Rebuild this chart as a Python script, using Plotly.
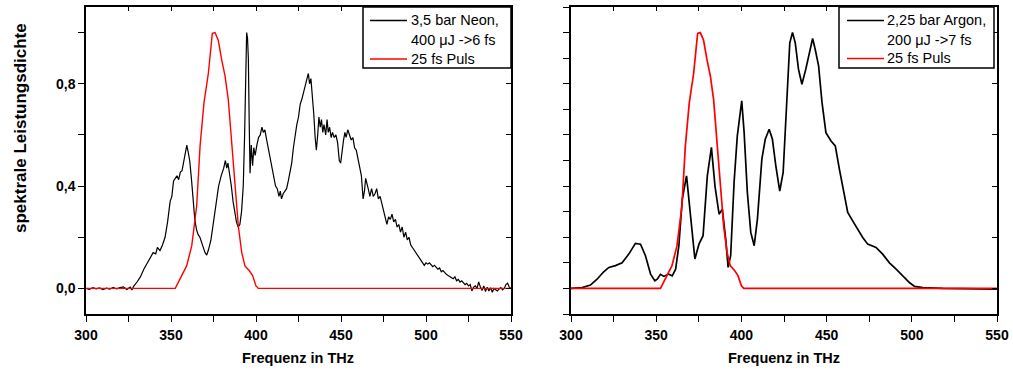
import plotly.graph_objects as go

# ---------------- data ----------------
neon_f = [300, 302, 304, 306, 308, 310, 312, 314, 316, 318, 320, 322, 324, 326, 327, 328,
          330, 332, 334, 336, 338, 339.5, 341, 342, 343.5, 345, 346.5, 348, 349.5, 350.5,
          351.5, 352.5, 353.5, 354.5, 355.5, 356.5, 357.5, 358.5, 359.3, 360.2, 361, 362,
          363, 364, 365, 366, 367, 368.5, 370, 371, 372, 373.5, 375, 376.5, 378, 379.5,
          381, 382, 382.8, 383.5, 384.5, 385.5, 386.5, 387.5, 388.5, 389.5, 390.5, 391.5,
          392.5, 393.3, 394, 394.5, 395, 395.5, 396, 396.5, 397.2, 398, 398.7, 399.5,
          400.5, 401.5, 402.5, 403.5, 404.3, 405.2, 406.3, 407.5, 408.5, 409.5, 410.5,
          411.5, 412.5, 413.5, 414.3, 415, 416, 417, 418, 419, 420, 421, 422, 423, 424,
          425, 426, 427, 428, 429, 430, 430.8, 431.5, 432.3, 433, 434, 434.8, 435.5,
          436.3, 437, 437.8, 438.5, 439.3, 440, 441, 441.8, 442.5, 443.3, 444.2, 445,
          446, 447, 448, 449, 449.8, 450.5, 451.5, 452.3, 453, 454, 455, 456, 457, 458,
          459, 460, 461, 462, 463, 463.8, 464.5, 465.3, 466, 467, 468, 469, 470, 471,
          472, 473, 474, 475, 476, 477, 478, 479, 480, 481, 482, 483, 484, 485, 486,
          487, 488, 489, 490, 491, 492, 493, 494, 495, 496, 497, 498, 499, 500, 501,
          502, 503, 504, 505, 506, 507, 508, 509, 510, 511, 512, 513, 514, 515, 516,
          517, 518, 519, 520, 521, 522, 523, 524, 525, 526, 527, 528, 529, 530, 531,
          532, 533, 534, 535, 536, 537, 538, 539, 540, 541, 542, 543, 544, 545, 546,
          547, 548, 549, 550]
neon_v = [0.000, -0.004, 0.003, -0.002, 0.002, -0.005, 0.001, -0.003, 0.004, -0.002, 0.003,
          0.006, -0.004, 0.005, -0.006, 0.008,
          0.025, 0.045, 0.075, 0.10, 0.125, 0.14, 0.135, 0.16, 0.148, 0.17, 0.20, 0.26,
          0.34, 0.36, 0.42, 0.43, 0.44, 0.425, 0.455, 0.46, 0.50, 0.54, 0.56, 0.53, 0.50,
          0.43, 0.35, 0.27, 0.23, 0.21, 0.20, 0.17, 0.14, 0.13, 0.15, 0.19, 0.26, 0.34,
          0.40, 0.44, 0.47, 0.50, 0.47, 0.49, 0.45, 0.40, 0.34, 0.29, 0.26, 0.24, 0.25,
          0.30, 0.40, 0.60, 0.85, 1.00, 0.98, 0.90, 0.65, 0.45, 0.56, 0.48, 0.55, 0.52,
          0.56, 0.59, 0.60, 0.63, 0.61, 0.62, 0.58, 0.54, 0.50, 0.47, 0.43, 0.40, 0.39,
          0.36, 0.38, 0.35, 0.37, 0.38, 0.39, 0.42, 0.46, 0.49, 0.55, 0.60, 0.64, 0.67,
          0.72, 0.74, 0.77, 0.80, 0.82, 0.84, 0.80, 0.82, 0.77, 0.68, 0.59, 0.54, 0.60,
          0.67, 0.63, 0.66, 0.61, 0.64, 0.60, 0.66, 0.61, 0.63, 0.59, 0.61, 0.59, 0.60,
          0.57, 0.50, 0.49, 0.54, 0.58, 0.61, 0.59, 0.62, 0.60, 0.58, 0.59, 0.55, 0.54,
          0.51, 0.48, 0.44, 0.35, 0.38, 0.43, 0.40, 0.39, 0.36, 0.39, 0.36, 0.37, 0.39,
          0.35, 0.36, 0.33, 0.31, 0.28, 0.25, 0.28, 0.27, 0.29, 0.26, 0.27, 0.24, 0.25,
          0.22, 0.24, 0.20, 0.22, 0.19, 0.20, 0.17, 0.16, 0.15, 0.14, 0.13, 0.12, 0.11,
          0.10, 0.09, 0.10, 0.095, 0.10, 0.09, 0.085, 0.09, 0.08, 0.075, 0.08, 0.065,
          0.07, 0.06, 0.055, 0.05, 0.045, 0.04, 0.038, 0.045, 0.03, 0.035, 0.025, 0.03,
          0.02, 0.015, 0.02, 0.01, 0.015, -0.01, 0.005, 0.01, 0.0, 0.025, 0.005, -0.008,
          0.01, -0.012, 0.005, -0.01, 0.003, -0.015, 0.0, -0.005, -0.01, -0.002, 0.003,
          -0.006, 0.0, 0.015, 0.02, 0.005, 0.0]

argon_f = [300, 306.5, 311.4, 315.3, 319.2, 322.2, 326.1, 330, 333.9, 337.8, 340.8, 343.7,
           346.7, 349.2, 350.6, 352.5, 354.5, 357.1, 359.4, 361.4, 363.3, 365.3, 367.8,
           370.2, 372.7, 375.1, 377.5, 380, 382.4, 384.5, 386.9, 388.8, 390.8, 392.2,
           393.7, 395.7, 397.6, 400.2, 401.6, 403.5, 405.5, 407.5, 409.4, 412, 414, 416.3,
           418.2, 420.2, 422.5, 424.5, 426.5, 428.4, 430, 431.6, 433.5, 435.5, 437.8,
           439.8, 441.8, 443.3, 445.3, 447.3, 449.6, 452.5, 455.1, 457.5, 459.8, 462.4,
           465.3, 468.2, 471.2, 474.1, 479, 482.9, 486.9, 490.8, 494.7, 498.6, 501.6,
           506.5, 518.2, 537.8, 550]
argon_v = [0.0, 0.003, 0.013, 0.036, 0.065, 0.082, 0.089, 0.10, 0.134, 0.176, 0.173, 0.128,
           0.056, 0.030, 0.036, 0.055, 0.047, 0.056, 0.049, 0.075, 0.167, 0.349, 0.44,
           0.27, 0.115, 0.173, 0.206, 0.44, 0.551, 0.40, 0.29, 0.31, 0.193, 0.082,
           0.128, 0.414, 0.596, 0.733, 0.609, 0.375, 0.219, 0.167, 0.271, 0.505, 0.583,
           0.622, 0.583, 0.479, 0.38, 0.453, 0.74, 0.96, 1.0, 0.96, 0.857, 0.798, 0.857,
           0.922, 0.977, 0.935, 0.87, 0.727, 0.609, 0.577, 0.557, 0.466, 0.388, 0.297,
           0.264, 0.232, 0.199, 0.173, 0.16, 0.134, 0.10, 0.075, 0.049, 0.023, 0.008,
           0.003, 0.0, -0.003, -0.003]

pulse_f = [300, 352.5, 356.3, 359.2, 362.2, 365.1, 367.1, 369.4, 372, 374.3, 375.9, 377.8,
           379.8, 381.8, 383.7, 385.7, 387.6, 389.6, 391.6, 393.5, 396.1, 398, 400, 401.4, 550]
pulse_v = [0.0, 0.0, 0.05, 0.088, 0.166, 0.322, 0.556, 0.725, 0.842, 0.997, 1.0, 0.97,
           0.894, 0.83, 0.738, 0.58, 0.40, 0.244, 0.14, 0.088, 0.069, 0.05, 0.01, 0.0, 0.0]

neon_label = ["3,5 bar Neon,", "400 \u03bcJ ->6 fs"]
argon_label = ["2,25 bar Argon,", "200 \u03bcJ ->7 fs"]
pulse_name = "25 fs Puls"
x_title = "Frequenz in THz"
y_title = "spektrale Leistungsdichte"

# ---------------- figure ----------------
W, H = 1013, 372
FONT = "Liberation Sans, Arial, sans-serif"


def px_x(p):
    return p / W


def px_y(p):
    return 1 - p / H


fig = go.Figure()
fig.add_trace(go.Scatter(x=neon_f, y=neon_v, mode="lines", name=" ".join(neon_label),
                         line=dict(color="black", width=1.2), xaxis="x", yaxis="y"))
fig.add_trace(go.Scatter(x=pulse_f, y=pulse_v, mode="lines", name=pulse_name,
                         line=dict(color="#ff0000", width=1.4), xaxis="x", yaxis="y"))
fig.add_trace(go.Scatter(x=argon_f, y=argon_v, mode="lines", name=" ".join(argon_label),
                         line=dict(color="black", width=1.7), xaxis="x2", yaxis="y2"))
fig.add_trace(go.Scatter(x=pulse_f, y=pulse_v, mode="lines", name=pulse_name,
                         line=dict(color="#ff0000", width=1.7), xaxis="x2", yaxis="y2"))
# invisible helpers for the mirrored (inward) tick axes
for xa, ya in (("x3", "y3"), ("x4", "y4")):
    fig.add_trace(go.Scatter(x=[None], y=[None], xaxis=xa, yaxis=ya, showlegend=False,
                             hoverinfo="skip"))

ydom = [px_y(314), px_y(7)]
xdom1 = [px_x(86), px_x(511)]
xdom2 = [px_x(571), px_x(997)]
tickfont = dict(family=FONT, size=14, color="black", weight="bold")

common_x = dict(range=[300, 550], showgrid=False, zeroline=False, showline=True,
                linecolor="black", linewidth=1.5, mirror=True, ticks="outside",
                ticklen=6, tickwidth=1.2, tickcolor="black", dtick=50, tick0=300,
                minor=dict(dtick=25, ticks="outside", ticklen=6, tickwidth=1.2,
                           tickcolor="black", showgrid=False),
                tickfont=tickfont, automargin=False, ticklabelstandoff=1)
common_y = dict(range=[-0.1, 1.1], showgrid=False, zeroline=False, showline=True,
                linecolor="black", linewidth=1.5, mirror=True, ticks="outside",
                ticklen=6, tickwidth=1.2, tickcolor="black", tick0=0,
                tickfont=tickfont, domain=ydom, automargin=False)
mirror_x = dict(range=[300, 550], dtick=25, tick0=300, ticks="inside", ticklen=4,
                tickwidth=1.2, tickcolor="black", showticklabels=False, showgrid=False,
                zeroline=False, showline=False, automargin=False, side="top")
mirror_y = dict(range=[-0.1, 1.1], dtick=0.2, tick0=0, ticks="inside", ticklen=5,
                tickwidth=1.2, tickcolor="black", showticklabels=False, showgrid=False,
                zeroline=False, showline=False, automargin=False, side="right")

fig.update_layout(
    width=W, height=H, margin=dict(l=0, r=0, t=0, b=0, autoexpand=False),
    paper_bgcolor="white", plot_bgcolor="white",
    separators=",.",
    font=dict(family=FONT, color="black"),
    showlegend=False,
    xaxis=dict(domain=xdom1, anchor="y", **common_x),
    yaxis=dict(anchor="x", dtick=0.4, tickformat=".1f",
               minor=dict(dtick=0.2, ticks="outside", ticklen=6, tickwidth=1.2,
                          tickcolor="black", showgrid=False), **common_y),
    xaxis2=dict(domain=xdom2, anchor="y2", **common_x),
    yaxis2=dict(anchor="x2", dtick=0.1, showticklabels=False, **common_y),
    xaxis3=dict(overlaying="x", anchor="y", **mirror_x),
    yaxis3=dict(overlaying="y", anchor="x", **mirror_y),
    xaxis4=dict(overlaying="x2", anchor="y2", **mirror_x),
    yaxis4=dict(overlaying="y2", anchor="x2", **mirror_y),
)

# ---- legends (boxes, line samples, labels) ----
leg_font = dict(family=FONT, size=14.5, color="black")


def add_legend(box, sample, text_x, rows, first_lines):
    x0, y0, x1, y1 = box
    fig.add_shape(type="rect", xref="paper", yref="paper",
                  x0=px_x(x0), x1=px_x(x1), y0=px_y(y1), y1=px_y(y0),
                  line=dict(color="black", width=1.5), fillcolor="white", layer="above")
    s0, s1 = sample
    fig.add_shape(type="line", xref="paper", yref="paper",
                  x0=px_x(s0), x1=px_x(s1), y0=px_y(rows[0]), y1=px_y(rows[0]),
                  line=dict(color="black", width=1.4), layer="above")
    fig.add_shape(type="line", xref="paper", yref="paper",
                  x0=px_x(s0), x1=px_x(s1), y0=px_y(rows[2]), y1=px_y(rows[2]),
                  line=dict(color="#ff0000", width=1.6), layer="above")
    texts = [first_lines[0], first_lines[1], pulse_name]
    for t, r in zip(texts, rows):
        fig.add_annotation(text=t, x=px_x(text_x), y=px_y(r), xref="paper", yref="paper",
                           xanchor="left", yanchor="middle", showarrow=False,
                           font=leg_font, borderpad=0)


add_legend((363, 7, 511, 68), (370, 407), 410, (20.5, 40, 59), neon_label)
add_legend((839, 7, 994, 68), (847, 884), 886, (20.5, 39.5, 58.5), argon_label)

title_font_x = dict(family=FONT, size=14.5, color="black", weight="bold")
title_font_y = dict(family=FONT, size=17, color="black", weight="bold")
fig.add_annotation(text=x_title, x=(xdom1[0] + xdom1[1]) / 2, y=px_y(358),
                   xref="paper", yref="paper", showarrow=False, font=title_font_x,
                   xanchor="center", yanchor="middle")
fig.add_annotation(text=x_title, x=(xdom2[0] + xdom2[1]) / 2, y=px_y(358),
                   xref="paper", yref="paper", showarrow=False, font=title_font_x,
                   xanchor="center", yanchor="middle")
fig.add_annotation(text=y_title, x=px_x(20), y=px_y(128), xref="paper", yref="paper",
                   showarrow=False, textangle=-90, font=title_font_y,
                   xanchor="center", yanchor="middle")

fig.write_html("out.html")
